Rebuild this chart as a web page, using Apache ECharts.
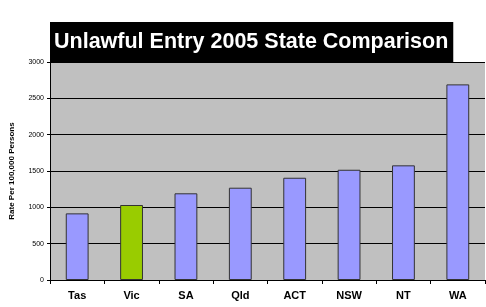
<!DOCTYPE html>
<html>
<head>
<meta charset="utf-8">
<script src="https://cdn.jsdelivr.net/npm/echarts@6/dist/echarts.min.js"></script>
<style>
  html, body { margin: 0; padding: 0; background: #fff; }
  #chart { width: 486px; height: 307px; }
</style>
</head>
<body>
<div id="chart"></div>
<script>
const states = ['Tas', 'Vic', 'SA', 'Qld', 'ACT', 'NSW', 'NT', 'WA']
const rates = [917, 1032, 1193, 1270, 1407, 1517, 1578, 2692]
const highlight = 'Vic'

const chart = echarts.init(document.getElementById('chart'))

chart.setOption({
  animation: false,
  title: {
    text: 'Unlawful Entry 2005 State Comparison',
    left: 50,
    top: 22,
    padding: [9, 5, 9, 4],
    backgroundColor: '#000',
    textStyle: {
      color: '#fff',
      fontFamily: 'Liberation Sans, Arial',
      fontWeight: 'bold',
      fontSize: 21.5,
      lineHeight: 22
    }
  },
  grid: {
    left: 50,
    right: 1,
    top: 62,
    bottom: 27,
    show: true,
    backgroundColor: '#c0c0c0',
    borderWidth: 0
  },
  xAxis: {
    type: 'category',
    data: states,
    axisLine: { lineStyle: { color: '#000', width: 1 } },
    axisTick: { show: true, length: 4, lineStyle: { color: '#000' } },
    axisLabel: {
      color: '#000',
      fontFamily: 'Liberation Sans, Arial',
      fontWeight: 'bold',
      fontSize: 11,
      margin: 10
    }
  },
  yAxis: {
    type: 'value',
    min: 0,
    max: 3000,
    interval: 500,
    name: 'Rate Per 100,000 Persons',
    nameLocation: 'middle',
    nameGap: 34,
    nameTextStyle: {
      color: '#000',
      fontFamily: 'Liberation Sans, Arial',
      fontWeight: 'bold',
      fontSize: 8
    },
    axisLine: { show: true, lineStyle: { color: '#000', width: 1 } },
    axisTick: { show: true, length: 3, lineStyle: { color: '#000' } },
    axisLabel: {
      color: '#000',
      fontFamily: 'Liberation Sans, Arial',
      fontSize: 7,
      margin: 6,
      formatter: (v) => String(v)
    },
    splitLine: { lineStyle: { color: '#000', width: 1 } }
  },
  series: [{
    type: 'bar',
    data: rates.map((v, i) => ({
      value: v,
      itemStyle: { color: states[i] === highlight ? '#99cc00' : '#9999ff' }
    })),
    barWidth: '42%',
    itemStyle: { borderColor: '#333', borderWidth: 1 }
  }]
})
</script>
</body>
</html>
